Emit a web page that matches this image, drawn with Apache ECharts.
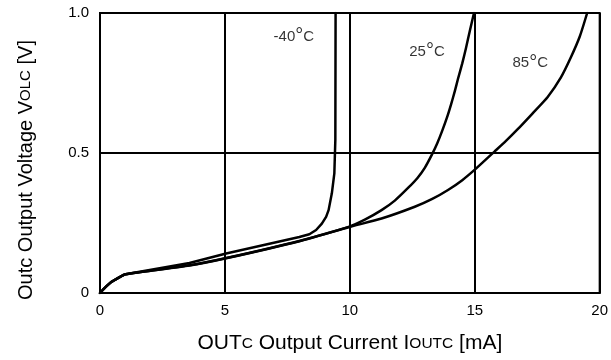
<!DOCTYPE html>
<html>
<head>
<meta charset="utf-8">
<script src="https://cdn.jsdelivr.net/npm/echarts@6/dist/echarts.min.js"></script>
<style>
html,body{margin:0;padding:0;background:#fff;}
#c{width:611px;height:360px;}
</style>
</head>
<body>
<div id="c"></div>
<script>
// X tick values and Y tick values
const xTicks = [0, 5, 10, 15, 20];
const yTicks = [0, 0.5, 1.0];

// -40 °C curve
const m40X = [0, 0.2, 0.45, 0.75, 1.02, 3.58, 5.05, 7.98, 8.38, 8.65, 8.88, 9.05, 9.15, 9.28, 9.38, 9.42, 9.43];
const m40Y = [0, 0.019, 0.039, 0.055, 0.067, 0.107, 0.141, 0.200, 0.210, 0.225, 0.248, 0.272, 0.296, 0.356, 0.427, 0.547, 1.0];

// 25 °C curve
const c25X = [0, 0.2, 0.45, 0.75, 1.02, 3.58, 5.05, 7.98, 9.95, 10.6, 11.27, 11.8, 12.34, 12.7, 13.0, 13.29, 13.5, 13.7, 13.9, 14.05, 14.2, 14.33, 14.5, 14.65, 14.8, 14.97];
const c25Y = [0, 0.019, 0.039, 0.055, 0.067, 0.099, 0.125, 0.186, 0.236, 0.262, 0.296, 0.33, 0.376, 0.41, 0.447, 0.495, 0.535, 0.58, 0.63, 0.673, 0.72, 0.765, 0.82, 0.875, 0.935, 1.0];

// 85 °C curve
const c85X = [0, 0.2, 0.45, 0.75, 1.02, 3.58, 5.05, 7.98, 9.95, 11.27, 12.6, 13.3, 13.93, 14.5, 15.06, 15.79, 16.25, 16.72, 17.3, 17.92, 18.45, 18.84, 19.2, 19.5];
const c85Y = [0, 0.019, 0.039, 0.055, 0.067, 0.098, 0.124, 0.185, 0.235, 0.266, 0.308, 0.336, 0.368, 0.403, 0.445, 0.505, 0.543, 0.585, 0.64, 0.70, 0.77, 0.84, 0.915, 1.0];

// curve annotations
const labelNames = ['-40', '25', '85'];
const labelX = [7.76, 13.09, 17.22];
const labelY = [0.916, 0.863, 0.821];

const zip = (xs, ys) => xs.map((x, i) => [x, ys[i]]);
const FONT = 'Liberation Sans, Arial, Helvetica, sans-serif';

const chart = echarts.init(document.getElementById('c'), null, {renderer: 'canvas'});

const lineSeries = (name, xs, ys, smooth) => ({
  name: name,
  type: 'line',
  data: zip(xs, ys),
  showSymbol: false,
  symbol: 'none',
  smooth: smooth,
  lineStyle: {color: '#000', width: 2.5, join: 'round', cap: 'round'},
  z: 5,
  silent: true
});

chart.setOption({
  animation: false,
  backgroundColor: '#fff',
  grid: {
    left: 100, right: 9, top: 13, bottom: 67,
    show: true, borderColor: '#000', borderWidth: 2
  },
  xAxis: {
    type: 'value',
    min: xTicks[0], max: xTicks[xTicks.length - 1], interval: 5,
    axisLine: {show: true, lineStyle: {color: '#000', width: 2}},
    axisTick: {show: false},
    splitLine: {show: true, lineStyle: {color: '#000', width: 2}},
    axisLabel: {color: '#000', fontSize: 15, fontFamily: FONT, margin: 10},
    name: 'OUT{s|C} Output Current I{s|OUTC} [mA]',
    nameLocation: 'middle',
    nameGap: 40,
    nameTextStyle: {
      color: '#000', fontSize: 21, fontFamily: FONT,
      rich: {s: {fontSize: 15.5, fontFamily: FONT, color: '#000'}}
    }
  },
  yAxis: {
    type: 'value',
    min: yTicks[0], max: yTicks[yTicks.length - 1], interval: 0.5,
    axisLine: {show: true, lineStyle: {color: '#000', width: 2}},
    axisTick: {show: false},
    splitLine: {show: true, lineStyle: {color: '#000', width: 2}},
    axisLabel: {
      color: '#000', fontSize: 15, fontFamily: FONT, margin: 11,
      formatter: v => (v === 0 ? '0' : v.toFixed(1))
    },
    name: 'Outc Output Voltage V{s|OLC} [V]',
    nameLocation: 'middle',
    nameGap: 64,
    nameTextStyle: {
      color: '#000', fontSize: 20, fontFamily: FONT, padding: [0, 34, 0, 0],
      rich: {s: {fontSize: 15, fontFamily: FONT, color: '#000'}}
    }
  },
  series: [
    lineSeries('-40°C', m40X, m40Y, false),
    lineSeries('25°C', c25X, c25Y, 0.2),
    lineSeries('85°C', c85X, c85Y, 0.2),
    {
      type: 'scatter',
      symbolSize: 0,
      silent: true,
      z: 6,
      data: labelNames.map((n, i) => ({name: n, value: [labelX[i], labelY[i]]})),
      label: {
        show: true,
        position: 'inside',
        color: '#000',
        fontSize: 15,
        fontFamily: FONT,
        formatter: p => p.name + '{d|°}C',
        rich: {d: {fontSize: 20, fontFamily: FONT, color: '#000'}}
      }
    }
  ]
});
</script>
</body>
</html>
